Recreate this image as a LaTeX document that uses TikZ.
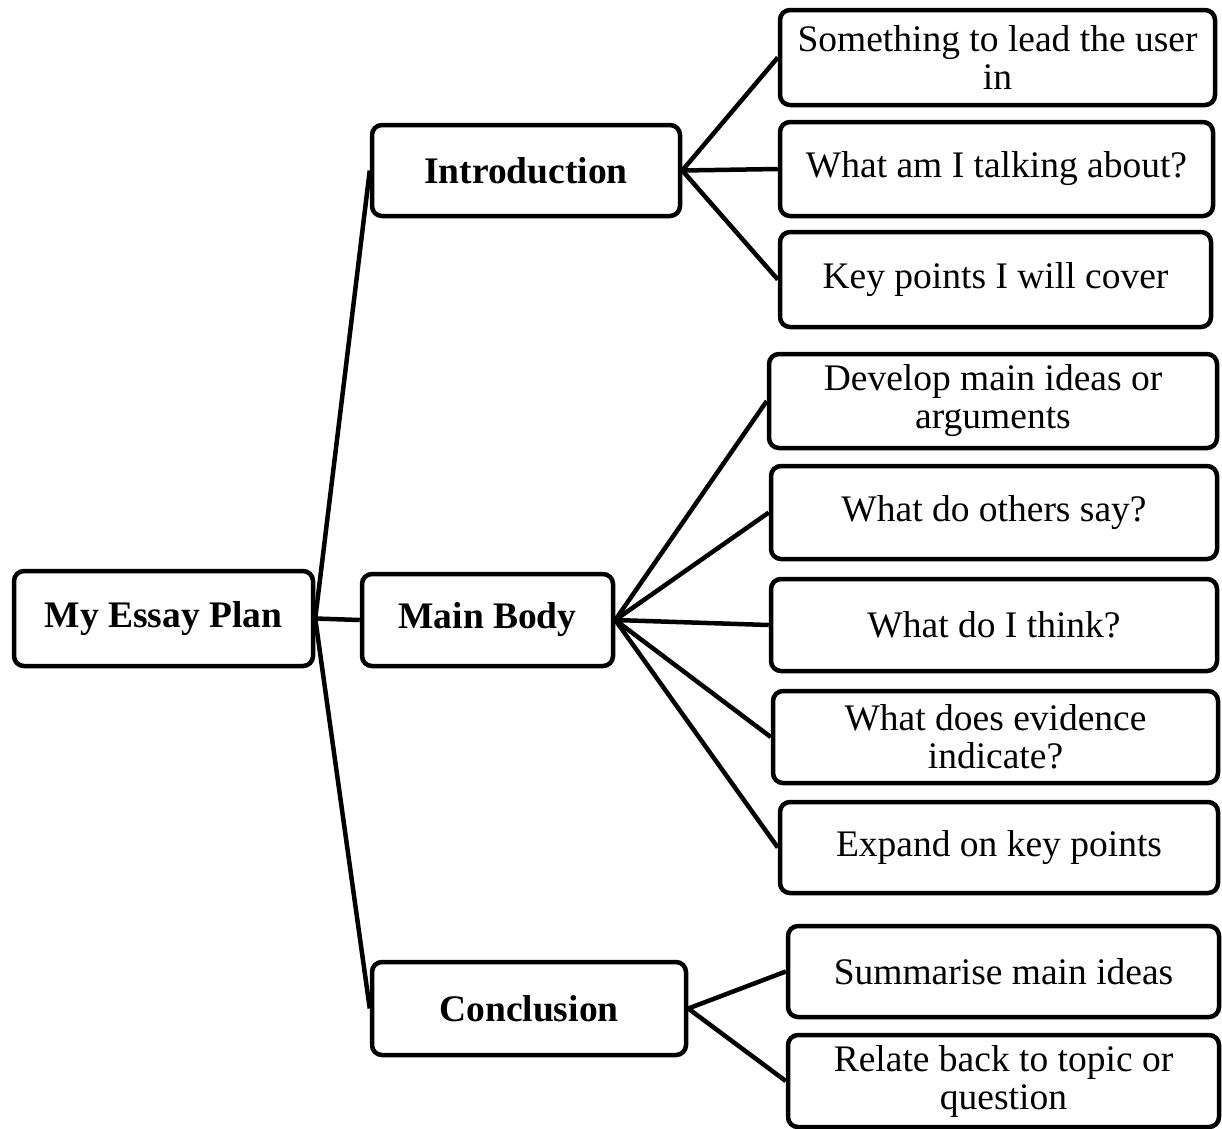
\documentclass[tikz,border=0pt]{standalone}
\usepackage{fontspec}
\setmainfont{Liberation Serif}
\begin{document}
\begin{tikzpicture}[x=1pt,y=-1pt,
  box/.style={draw=black, line width=4.5pt, rounded corners=10pt, fill=white,
    align=center, inner sep=0pt, font=\fontsize{37.5}{38}\selectfont},
  hub/.style={box, font=\fontsize{37.5}{38}\selectfont\bfseries},
  link/.style={line width=4.5pt, black}]
\useasboundingbox (0,0) rectangle (1222,1128);
% level 0 / 1
\node[hub, minimum width=299pt, minimum height=95pt] (root) at (163.5,618.5) {My Essay Plan};
\node[hub, minimum width=308pt, minimum height=91pt] (intro) at (526,170.5) {Introduction};
\node[hub, minimum width=251pt, minimum height=92pt] (mainb) at (487.5,620) {Main Body};
\node[hub, minimum width=314pt, minimum height=93pt] (concl) at (529,1008.5) {Conclusion};
% introduction leaves
\node[box, minimum width=435pt, minimum height=95pt] (l1) at (997.5,57.5) {Something to lead the user\\in};
\node[box, minimum width=433pt, minimum height=94pt] (l2) at (996.5,169) {What am I talking about?};
\node[box, minimum width=431pt, minimum height=95pt] (l3) at (995.5,279.5) {Key points I will cover};
% main body leaves
\node[box, minimum width=448pt, minimum height=94pt] (m1) at (993,401) {Develop main ideas or\\arguments};
\node[box, minimum width=446pt, minimum height=93pt] (m2) at (994,512.5) {What do others say?};
\node[box, minimum width=446pt, minimum height=92pt] (m3) at (994,625) {What do I think?};
\node[box, minimum width=445pt, minimum height=92pt] (m4) at (995.5,737) {What does evidence\\indicate?};
\node[box, minimum width=438pt, minimum height=91pt] (m5) at (999,847.5) {Expand on key points};
% conclusion leaves
\node[box, minimum width=431pt, minimum height=91pt] (c1) at (1003.5,971.5) {Summarise main ideas};
\node[box, minimum width=431pt, minimum height=92pt] (c2) at (1003.5,1081) {Relate back to topic or\\question};
% connectors
\draw[link] (root.east) -- (intro.west);
\draw[link] (root.east) -- (mainb.west);
\draw[link] (root.east) -- (concl.west);
\foreach \t in {l1,l2,l3} \draw[link] (intro.east) -- (\t.west);
\foreach \t in {m1,m2,m3,m4,m5} \draw[link] (mainb.east) -- (\t.west);
\foreach \t in {c1,c2} \draw[link] (concl.east) -- (\t.west);
\end{tikzpicture}
\end{document}
